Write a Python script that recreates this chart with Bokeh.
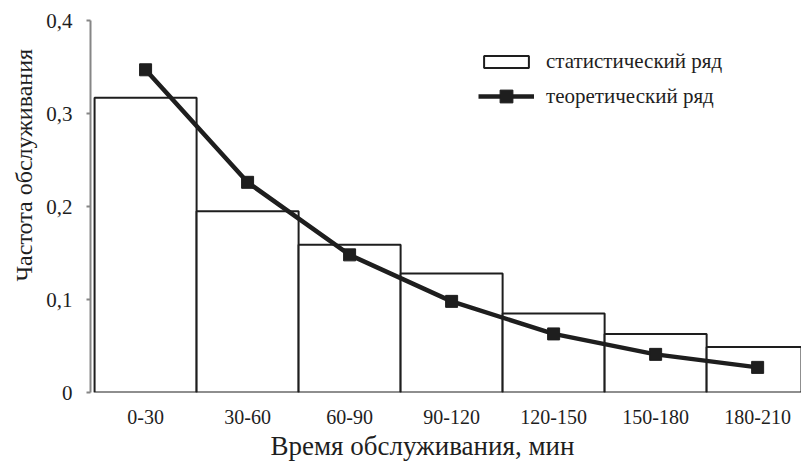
from bokeh.plotting import figure
from bokeh.models import Range1d, FixedTicker, Legend, LegendItem, Title
from bokeh.embed import file_html
from bokeh.resources import INLINE

categories = ["0-30", "30-60", "60-90", "90-120", "120-150", "150-180", "180-210"]
stat_freq = [0.317, 0.195, 0.159, 0.128, 0.085, 0.063, 0.049]
theor_freq = [0.347, 0.226, 0.148, 0.098, 0.063, 0.041, 0.027]
y_ticks = [0, 0.1, 0.2, 0.3, 0.4]
y_tick_labels = ["0", "0,1", "0,2", "0,3", "0,4"]
x_title = "Время обслуживания, мин"
y_title = "Частота обслуживания"
stat_name = "статистический ряд"
theor_name = "теоретический ряд"

FONT = "Liberation Serif"
INK = "#1e1e1e"

xs = [i + 0.5 for i in range(len(categories))]

p = figure(width=801, height=466, output_backend="svg", toolbar_location=None,
           x_range=Range1d(-0.04, 6.93), y_range=Range1d(0, 0.4),
           min_border_left=90, min_border_right=0, min_border_top=20,
           min_border_bottom=74)
p.outline_line_color = None
p.grid.visible = False
p.background_fill_color = "white"

bars = p.vbar(x=xs, top=stat_freq, bottom=0, width=1.0, fill_color="white",
              line_color=INK, line_width=2)
ln = p.line(xs, theor_freq, line_color=INK, line_width=4.5)
mk = p.scatter(xs, theor_freq, marker="square", size=12, fill_color=INK,
               line_color=INK)

# x axis
xa = p.xaxis[0]
xa.ticker = FixedTicker(ticks=xs)
xa.major_label_overrides = {x: c for x, c in zip(xs, categories)}
xa.axis_line_color = None
xa.major_tick_line_color = None
xa.minor_tick_line_color = None
xa.major_tick_out = 0
xa.major_tick_in = 0
xa.major_label_standoff = 17
xa.major_label_text_font = FONT
xa.major_label_text_font_size = "20px"
xa.major_label_text_color = INK

# y axis
ya = p.yaxis[0]
ya.ticker = FixedTicker(ticks=y_ticks)
ya.major_label_overrides = {t: l for t, l in zip(y_ticks, y_tick_labels)}
ya.axis_line_color = "#868686"
ya.axis_line_width = 2
ya.major_tick_line_color = "#868686"
ya.major_tick_line_width = 2
ya.minor_tick_line_color = None
ya.major_tick_out = 4
ya.major_tick_in = 0
ya.major_label_standoff = 14
ya.major_label_text_font = FONT
ya.major_label_text_font_size = "21px"
ya.major_label_text_color = INK

# axis titles
p.add_layout(Title(text=x_title, align="left", offset=180, standoff=5,
                   text_font=FONT, text_font_size="27px", text_font_style="normal",
                   text_color=INK), "below")
p.add_layout(Title(text=y_title, align="left", offset=111, standoff=13,
                   text_font=FONT, text_font_size="24px", text_font_style="normal",
                   text_color=INK), "left")

common = dict(padding=0, margin=0, border_line_color=None, background_fill_alpha=0,
              label_text_font=FONT, label_text_font_size="21px", label_text_color=INK,
              label_standoff=12, glyph_width=56)
leg1 = Legend(items=[LegendItem(label=stat_name, renderers=[bars])],
              location=(388, 318), glyph_height=15, **common)
leg2 = Legend(items=[LegendItem(label=theor_name, renderers=[ln, mk])],
              location=(388, 280), glyph_height=32, **common)
p.add_layout(leg1)
p.add_layout(leg2)

open("out.html", "w").write(file_html(p, INLINE))
